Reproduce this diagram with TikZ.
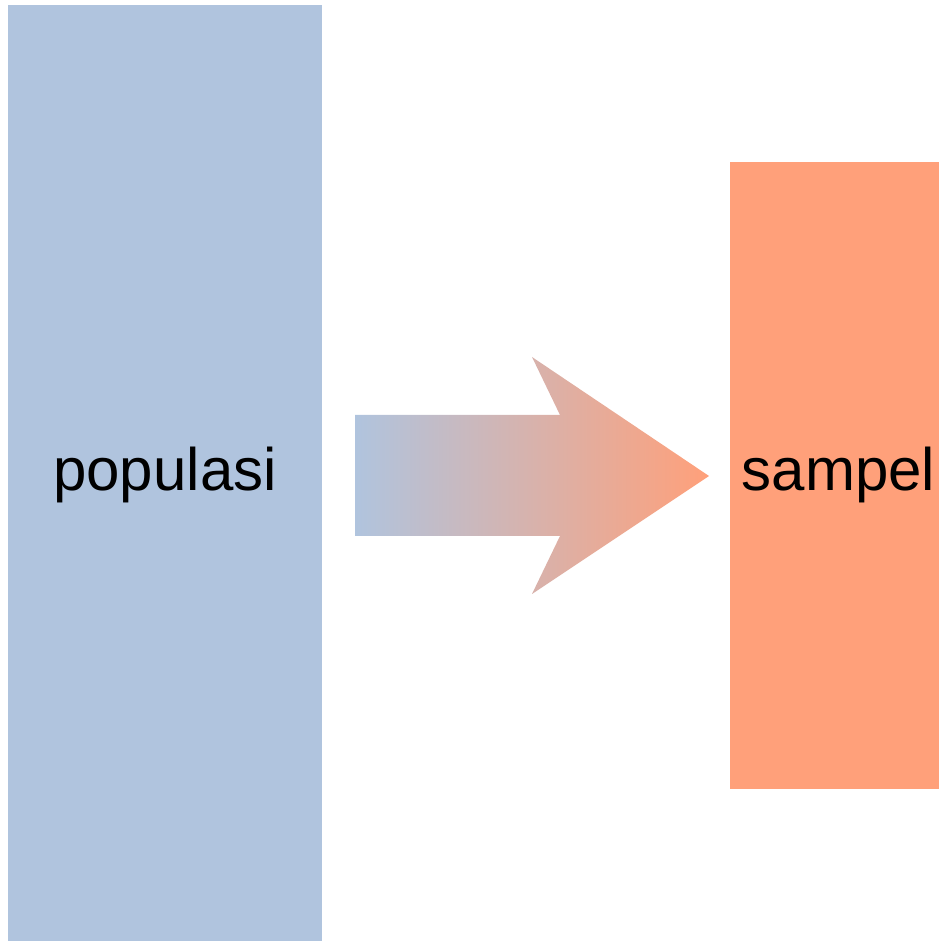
\documentclass[tikz,border=0pt]{standalone}
\usepackage{fontspec}
\setmainfont{Liberation Sans}
\definecolor{popblue}{HTML}{B0C4DE}
\definecolor{samporange}{HTML}{FFA07A}
\begin{document}
\begin{tikzpicture}[x=1pt,y=1pt,
  block/.style={rectangle, inner sep=0pt, draw=none},
  lbl/.style={anchor=base, inner sep=0pt, font=\fontsize{60}{72}\selectfont}]
\useasboundingbox (0,0) rectangle (939,942);
% population and sample blocks
\node[block, fill=popblue, minimum width=314pt, minimum height=936pt] (pop) at (165,469) {};
\node[block, fill=samporange, minimum width=209.5pt, minimum height=627pt] (samp) at (834.25,466.5) {};
% block captions
\node[lbl] (poptext) at (165,451) {populasi};
\node[lbl] (samptext) at (838.5,451) {sampel};
% shaded arrow from population to sample
\shade[left color=popblue, right color=samporange]
  (355,527) -- (560,527) -- (532,585) -- (709,466) -- (532,348) -- (560,406) -- (355,406) -- cycle;
\end{tikzpicture}
\end{document}
